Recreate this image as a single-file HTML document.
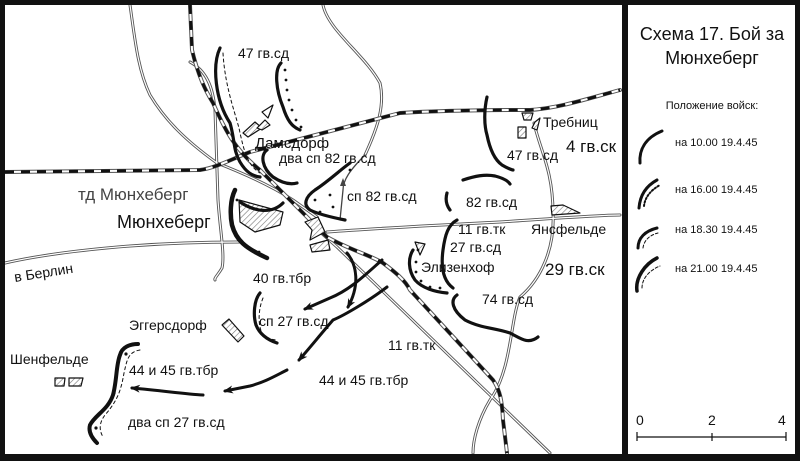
<!DOCTYPE html>
<html><head><meta charset="utf-8"><style>
html,body{margin:0;padding:0;background:#fff}
svg{display:block}
text{font-family:"Liberation Sans",sans-serif;fill:#111}
</style></head><body>
<svg width="800" height="461" viewBox="0 0 800 461" xmlns="http://www.w3.org/2000/svg">
<defs>
<pattern id="h" width="4" height="4" patternUnits="userSpaceOnUse" patternTransform="rotate(45)"><rect width="4" height="4" fill="#fff"/><line x1="0" y1="0" x2="0" y2="4" stroke="#777" stroke-width="1.2"/></pattern>
<marker id="ar" markerWidth="10" markerHeight="8" refX="8" refY="4" orient="auto" markerUnits="userSpaceOnUse"><path d="M0,0 L10,4 L0,8 L3,4 Z" fill="#111"/></marker>
</defs>
<rect x="0" y="0" width="800" height="461" fill="#fff"/>

<g fill="none" stroke-linecap="round" stroke-linejoin="round">
<!-- roads (double lines) -->
<g stroke="#555" stroke-width="3"><path id="r1" d="M130,5 C135,40 138,70 150,95 C165,120 185,140 217,163 C240,172 270,185 293,200 L317,217"/>
<path d="M5,263 C40,255 80,250 130,246 C170,243 200,242 240,242"/>
<path d="M327,232 C380,228 440,225 500,222 C560,218 600,215 620,215"/>
<path d="M190,62 C205,70 213,85 215,110 L218,200 C220,230 225,255 222,268 C218,275 214,278 215,280"/>
<path d="M310,223 L337,247 L550,453"/>
<path d="M534,123 C540,150 553,170 553,213 C555,250 540,280 520,297 C510,320 512,370 490,400 C478,420 473,440 473,453"/>
<path d="M323,5 C328,30 365,55 380,83 C385,105 378,127 365,155"/>
</g>
<g stroke="#fff" stroke-width="1.2">
<path d="M130,5 C135,40 138,70 150,95 C165,120 185,140 217,163 C240,172 270,185 293,200 L317,217"/>
<path d="M5,263 C40,255 80,250 130,246 C170,243 200,242 240,242"/>
<path d="M327,232 C380,228 440,225 500,222 C560,218 600,215 620,215"/>
<path d="M190,62 C205,70 213,85 215,110 L218,200 C220,230 225,255 222,268 C218,275 214,278 215,280"/>
<path d="M310,223 L337,247 L550,453"/>
<path d="M534,123 C540,150 553,170 553,213 C555,250 540,280 520,297 C510,320 512,370 490,400 C478,420 473,440 473,453"/>
<path d="M323,5 C328,30 365,55 380,83 C385,105 378,127 365,155"/>
</g>
<path d="M365,155 C350,170 343,180 343,190 L340,220" stroke="#444" stroke-width="1.3"/>
<path d="M343,178 l-3,8 l6,0 z" fill="#444" stroke="none"/>

<!-- railways -->
<g>
<path d="M5,172 L200,170 C215,168 230,160 250,152 L400,113 C450,110 500,110 530,110 C560,108 590,98 620,90" stroke="#555" stroke-width="4"/>
<path d="M5,172 L200,170 C215,168 230,160 250,152 L400,113 C450,110 500,110 530,110 C560,108 590,98 620,90" stroke="#fff" stroke-width="2"/>
<path d="M5,172 L200,170 C215,168 230,160 250,152 L400,113 C450,110 500,110 530,110 C560,108 590,98 620,90" stroke="#111" stroke-width="3" stroke-dasharray="9 7" stroke-linecap="butt"/>
<path d="M190,5 L192,50 C198,75 205,90 213,103 C225,130 235,150 260,170 L327,237 C350,250 370,255 383,263 C395,272 405,280 410,290 L493,380 C500,390 502,400 503,420 L507,453" stroke="#555" stroke-width="4"/>
<path d="M190,5 L192,50 C198,75 205,90 213,103 C225,130 235,150 260,170 L327,237 C350,250 370,255 383,263 C395,272 405,280 410,290 L493,380 C500,390 502,400 503,420 L507,453" stroke="#fff" stroke-width="2"/>
<path d="M190,5 L192,50 C198,75 205,90 213,103 C225,130 235,150 260,170 L327,237 C350,250 370,255 383,263 C395,272 405,280 410,290 L493,380 C500,390 502,400 503,420 L507,453" stroke="#111" stroke-width="3" stroke-dasharray="9 7" stroke-linecap="butt"/>
</g>

<!-- villages -->
<g stroke="#111" stroke-width="1.2" fill="url(#h)">
<path d="M243,133 L255,122 L262,128 L248,137 Z"/><path d="M257,128 L265,120 L270,125 L262,130 Z"/>
<path d="M262,112 L273,105 L268,118 Z" fill="#fff"/>
<path d="M239,200 L283,212 L280,225 L255,232 L240,222 Z"/>
<path d="M305,222 L318,217 L325,232 L310,240 L312,230 Z"/>
<path d="M310,245 L328,240 L330,250 L312,252 Z"/>
<path d="M415,242 L425,244 L420,255 Z"/>
<path d="M518,127 L526,127 L526,138 L518,138 Z"/><path d="M522,113 L533,113 L531,120 L524,120 Z"/><path d="M535,122 L540,118 L537,130 L532,128 Z"/>
<path d="M551,206 L563,205 L580,213 L552,215 Z"/>
<path d="M222,325 L229,319 L244,336 L238,342 Z"/>
<path d="M55,378 L65,378 L64,386 L55,386 Z"/><path d="M69,378 L83,378 L81,386 L69,386 Z"/>
</g>

<!-- troop lines -->
<g stroke="#111" stroke-width="3.2">
<path d="M220,48 C212,65 215,100 230,123 C235,140 233,150 240,162 C246,172 252,176 260,177"/>
<path d="M281,63 C274,70 276,90 283,107 C287,120 292,127 300,130"/>
<path d="M267,150 C260,155 262,168 273,177 C282,183 290,185 297,183"/>
<path d="M350,163 C340,170 330,180 315,190 C305,197 303,205 310,210 C320,215 335,218 345,220"/>
<path d="M235,190 C230,200 230,215 232,225 C236,240 245,248 267,258" stroke-width="4.5"/>
<path d="M240,202 C255,212 272,214 283,203"/>
<path d="M447,193 C445,200 447,206 450,210 M463,180 C475,176 485,174 495,176 C503,178 508,181 510,184"/>
<path d="M487,97 C484,110 484,125 487,135 C490,150 495,160 502,165 C507,168 512,170 513,170"/>
<path d="M457,220 C448,225 445,235 443,250 C441,265 442,280 453,288"/>
<path d="M413,250 C408,258 408,270 415,280 C422,288 435,292 447,293"/>
<path d="M457,295 C450,300 452,310 465,320 C480,328 495,328 510,333 C520,338 528,345 538,337"/>
<path d="M260,293 C254,300 253,315 256,325 C260,335 268,340 277,343"/>
<path d="M138,344 C130,344 122,347 120,355 C116,365 117,380 113,395 C108,410 95,415 90,425 C88,432 92,438 97,443" stroke-width="4"/>
</g>
<g fill="#111" stroke="none">
<circle cx="285" cy="70" r="1.4"/><circle cx="286" cy="80" r="1.4"/><circle cx="287" cy="90" r="1.4"/><circle cx="289" cy="100" r="1.4"/><circle cx="292" cy="110" r="1.4"/><circle cx="296" cy="120" r="1.4"/><circle cx="301" cy="127" r="1.4"/>
<circle cx="350" cy="170" r="1.4"/><circle cx="330" cy="195" r="1.4"/><circle cx="315" cy="200" r="1.4"/><circle cx="320" cy="212" r="1.4"/><circle cx="333" cy="207" r="1.4"/>
<circle cx="418" cy="250" r="1.4"/><circle cx="416" cy="262" r="1.4"/><circle cx="416" cy="272" r="1.4"/><circle cx="421" cy="281" r="1.4"/><circle cx="430" cy="287" r="1.4"/><circle cx="440" cy="288" r="1.4"/>
<circle cx="237" cy="200" r="1.4"/><circle cx="259" cy="252" r="1.4"/>
<circle cx="126" cy="354" r="1.6"/><circle cx="114" cy="393" r="1.6"/><circle cx="96" cy="428" r="1.6"/>
</g>
<g stroke="#111" stroke-width="1" stroke-dasharray="3 3">
<path d="M223,53 C225,90 238,120 240,133 C244,150 247,165 260,173"/>
<path d="M263,298 C258,310 258,325 262,333 C266,338 272,340 277,340"/>
<path d="M140,350 C128,352 127,360 124,373 C121,390 118,400 105,415 C99,423 99,430 103,437"/>
</g>

<!-- arrows -->
<g stroke="#111" stroke-width="3" marker-end="url(#ar)">
<path d="M382,260 C365,275 350,290 330,298 L305,309"/>
<path d="M347,253 C357,265 360,285 348,307"/>
<path d="M387,287 C370,300 345,315 333,320 C320,335 308,350 299,360"/>
<path d="M287,370 C275,376 265,382 250,386 L225,391"/>
<path d="M203,395 C185,394 165,391 132,388"/>
</g>
</g>

<!-- labels -->
<g font-size="14">
<text x="238" y="58">47 гв.сд</text>
<text x="255" y="148" font-size="15">Дамсдорф</text>
<text x="279" y="163">два сп 82 гв.сд</text>
<text x="347" y="201">сп 82 гв.сд</text>
<text x="78" y="200" font-size="17" fill="#444" style="fill:#444">тд Мюнхеберг</text>
<text x="117" y="228" font-size="18">Мюнхеберг</text>
<text x="466" y="207">82 гв.сд</text>
<text x="458" y="234">11 гв.тк</text>
<text x="450" y="252">27 гв.сд</text>
<text x="421" y="272">Элизенхоф</text>
<text x="531" y="234">Янсфельде</text>
<text x="545" y="275" font-size="17">29 гв.ск</text>
<text x="482" y="304">74 гв.сд</text>
<text x="253" y="283">40 гв.тбр</text>
<text x="259" y="326">сп 27 гв.сд</text>
<text x="129" y="330">Эггерсдорф</text>
<text x="388" y="350">11 гв.тк</text>
<text x="319" y="385">44 и 45 гв.тбр</text>
<text x="10" y="364">Шенфельде</text>
<text x="129" y="375">44 и 45 гв.тбр</text>
<text x="128" y="427">два сп 27 гв.сд</text>
<text x="15" y="282" transform="rotate(-9 15 282)">в Берлин</text>
<text x="543" y="127">Требниц</text>
<text x="507" y="160">47 гв.сд</text>
<text x="566" y="152" font-size="17">4 гв.ск</text>
</g>

<!-- legend panel -->
<g text-anchor="middle">
<text x="712" y="40" font-size="18">Схема 17. Бой за</text>
<text x="712" y="64" font-size="18">Мюнхеберг</text>
<text x="712" y="109" font-size="11">Положение войск:</text>
</g>
<g font-size="11">
<text x="675" y="146">на 10.00 19.4.45</text>
<text x="675" y="193">на 16.00 19.4.45</text>
<text x="675" y="233">на 18.30 19.4.45</text>
<text x="675" y="272">на 21.00 19.4.45</text>
</g>
<g fill="none" stroke="#111" stroke-linecap="round">
<path d="M640,163 C639,150 645,138 662,131" stroke-width="3"/>
<path d="M639,208 C640,195 646,186 657,180" stroke-width="3"/>
<path d="M644,206 C645,197 651,190 660,185" stroke-width="2" stroke-dasharray="1.5 2"/>
<path d="M638,248 C638,238 645,231 657,228" stroke-width="3"/>
<path d="M643,248 C644,240 650,235 658,233" stroke-width="1" stroke-dasharray="3 2"/>
<path d="M637,291 C635,278 645,264 657,258" stroke-width="3.5"/>
<path d="M642,288 C642,278 650,270 660,266" stroke-width="1" stroke-dasharray="3 2"/>
<path d="M637,437 L786,437 M637,432 L637,441 M712,433 L712,441 M786,432 L786,441" stroke-width="1.2" stroke-linecap="butt"/>
</g>
<g font-size="14"><text x="636" y="425">0</text><text x="708" y="425">2</text><text x="778" y="425">4</text></g>

<!-- frame -->
<g fill="#111">
<rect x="0" y="0" width="800" height="5"/>
<rect x="0" y="454" width="800" height="7"/>
<rect x="0" y="0" width="5" height="461"/>
<rect x="795" y="0" width="5" height="461"/>
<rect x="622" y="0" width="6" height="461"/>
</g>
</svg>
</body></html>
